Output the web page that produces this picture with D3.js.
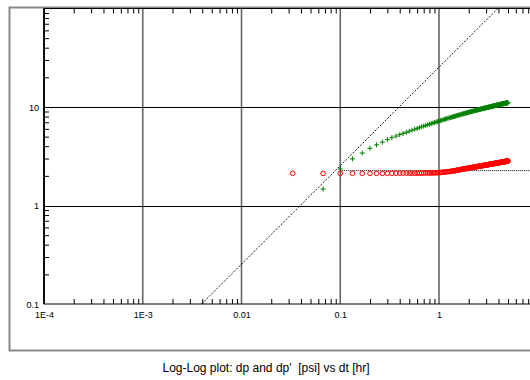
<!DOCTYPE html>
<html><head><meta charset="utf-8">
<script src="https://cdn.jsdelivr.net/npm/d3@7"></script>
<style>body{margin:0;background:#fff}svg{display:block}</style>
</head><body><svg id="c" width="530" height="380"></svg>
<script>
// ---- data ----
const dtHr = [
0.033,0.067,0.1,0.133,0.167,0.2,0.233,0.267,0.3,0.333,0.367,0.4,0.433,0.467,0.5,0.533,0.567,0.6,0.633,0.667,0.7,0.733,0.767,0.8,0.833,0.867,0.9,0.933,0.967,1,
1.033,1.067,1.1,1.133,1.167,1.2,1.233,1.267,1.3,1.333,1.367,1.4,1.433,1.467,1.5,1.533,1.567,1.6,1.633,1.667,1.7,1.733,1.767,1.8,1.833,1.867,1.9,1.933,1.967,2,
2.033,2.067,2.1,2.133,2.167,2.2,2.233,2.267,2.3,2.333,2.367,2.4,2.433,2.467,2.5,2.533,2.567,2.6,2.633,2.667,2.7,2.733,2.767,2.8,2.833,2.867,2.9,2.933,2.967,3,
3.033,3.067,3.1,3.133,3.167,3.2,3.233,3.267,3.3,3.333,3.367,3.4,3.433,3.467,3.5,3.533,3.567,3.6,3.633,3.667,3.7,3.733,3.767,3.8,3.833,3.867,3.9,3.933,3.967,4,
4.033,4.067,4.1,4.133,4.167,4.2,4.233,4.267,4.3,4.333,4.367,4.4,4.433,4.467,4.5,4.533,4.567,4.6,4.633,4.667,4.7,4.733,4.767,4.8,4.833,4.867,4.9,4.933,4.967,5
];
const dpPsi = [
2.12,2.12,2.12,2.12,2.12,2.12,2.12,2.12,2.12,2.12,2.13,2.13,2.13,2.13,2.13,2.13,2.13,2.13,2.13,2.13,2.14,2.14,2.14,2.14,2.14,2.14,2.14,2.15,2.15,2.16,
2.16,2.17,2.18,2.18,2.19,2.20,2.21,2.21,2.22,2.23,2.24,2.25,2.25,2.26,2.27,2.29,2.30,2.30,2.31,2.32,2.33,2.34,2.35,2.35,2.36,2.37,2.38,2.38,2.39,2.40,
2.41,2.41,2.42,2.43,2.43,2.44,2.45,2.45,2.46,2.47,2.47,2.48,2.48,2.49,2.50,2.50,2.51,2.51,2.52,2.53,2.53,2.54,2.54,2.55,2.55,2.56,2.56,2.57,2.57,2.58,
2.58,2.59,2.59,2.60,2.60,2.61,2.61,2.62,2.62,2.63,2.63,2.64,2.64,2.65,2.65,2.66,2.66,2.67,2.67,2.67,2.68,2.68,2.69,2.69,2.70,2.70,2.70,2.71,2.71,2.72,
2.72,2.72,2.73,2.73,2.74,2.74,2.74,2.75,2.75,2.76,2.76,2.76,2.77,2.77,2.77,2.78,2.78,2.79,2.79,2.79,2.80,2.80,2.80,2.81,2.81,2.81,2.82,2.82,2.82,2.83
];
const dpDeriv = [
null,1.47,2.35,2.97,3.41,3.81,4.13,4.40,4.66,4.88,5.06,5.23,5.39,5.54,5.68,5.81,5.94,6.06,6.18,6.29,6.39,6.50,6.60,6.69,6.78,6.87,6.95,7.04,7.12,7.19,
7.27,7.34,7.42,7.48,7.55,7.62,7.68,7.75,7.81,7.87,7.92,7.98,8.04,8.09,8.15,8.20,8.25,8.30,8.35,8.40,8.45,8.49,8.54,8.58,8.63,8.67,8.71,8.76,8.80,8.84,
8.88,8.92,8.96,9.00,9.03,9.07,9.11,9.14,9.18,9.21,9.25,9.28,9.32,9.35,9.38,9.42,9.45,9.48,9.51,9.54,9.57,9.60,9.63,9.66,9.69,9.72,9.74,9.77,9.80,9.83,
9.85,9.88,9.91,9.93,9.96,9.98,10.01,10.04,10.06,10.08,10.11,10.13,10.16,10.18,10.20,10.23,10.25,10.27,10.29,10.32,10.34,10.36,10.38,10.40,10.42,10.45,10.47,10.49,10.51,10.53,
10.55,10.57,10.59,10.61,10.63,10.65,10.66,10.68,10.70,10.72,10.74,10.76,10.78,10.80,10.81,10.83,10.85,10.87,10.88,10.90,10.92,10.93,10.95,10.97,10.98,11.00,11.02,11.04,11.05,11.07
];
const storageLine = [[0.00394, 0.1], [3.94, 100]];
const iarfLine = [[0.1, 2.26], [10, 2.26]];
const xMajor = [1e-4, 1e-3, 1e-2, 1e-1, 1];
const xTickLabels = ["1E-4", "1E-3", "0.01", "0.1", "1"];
const yMajor = [0.1, 1, 10];
const yTickLabels = ["0.1", "1", "10"];
const titleText = "Log-Log plot: dp and dp'  [psi] vs dt [hr]";

// ---- drawing ----
const svg = d3.select("#c");
const x = d3.scaleLog().domain([1e-4, 10]).range([44, 537.75]);
const y = d3.scaleLog().domain([0.1, 100]).range([304, 8.5]);
const font = "Liberation Sans, Arial, sans-serif";

// outer frame
svg.append("rect").attr("x", 9.5).attr("y", 7.5).attr("width", 620).attr("height", 343)
  .attr("fill", "none").attr("stroke", "#8a8a8a").attr("stroke-width", 2);

// minor tick values
const xMinor = [], yMinor = [];
for (let e = -4; e <= 0; e++) for (let k = 2; k <= 9; k++) xMinor.push(k * Math.pow(10, e));
for (let e = -1; e <= 1; e++) for (let k = 2; k <= 9; k++) yMinor.push(k * Math.pow(10, e));

// grid lines
const g = svg.append("g");
g.selectAll(".vg").data(xMajor.slice(1)).enter().append("line")
  .attr("x1", d => x(d)).attr("x2", d => x(d)).attr("y1", y(100)).attr("y2", y(0.1))
  .attr("stroke", "#666").attr("stroke-width", 1.6);
g.selectAll(".hg").data([1, 10]).enter().append("line")
  .attr("x1", x(1e-4)).attr("x2", x(10)).attr("y1", d => Math.round(y(d)) + 0.5).attr("y2", d => Math.round(y(d)) + 0.5)
  .attr("stroke", "#000").attr("stroke-width", 1);

// axes (minor ticks inside)
function styleAxis(sel) {
  sel.select(".domain").remove();
  sel.selectAll("line").attr("stroke", "#000");
  sel.selectAll("text").attr("font-family", font).attr("font-size", 9).attr("fill", "#000");
}
svg.append("g").attr("transform", "translate(0,304)")
  .call(d3.axisBottom(x).tickValues(xMinor).tickSize(-5).tickFormat("")).call(styleAxis);
svg.append("g").attr("transform", "translate(0,8.5)")
  .call(d3.axisTop(x).tickValues(xMinor).tickSize(-5).tickFormat("")).call(styleAxis);
svg.append("g").attr("transform", "translate(44,0)")
  .call(d3.axisLeft(y).tickValues(yMinor).tickSize(-5).tickFormat("")).call(styleAxis);
svg.append("g").attr("transform", "translate(537.75,0)")
  .call(d3.axisRight(y).tickValues(yMinor).tickSize(-5).tickFormat("")).call(styleAxis);

// labels
svg.append("g").attr("transform", "translate(0,304)")
  .call(d3.axisBottom(x).tickValues(xMajor).tickSize(0).tickPadding(8)
    .tickFormat((d, i) => xTickLabels[i])).call(styleAxis);
svg.append("g").attr("transform", "translate(39,0)")
  .call(d3.axisLeft(y).tickValues(yMajor).tickSize(0).tickPadding(0)
    .tickFormat((d, i) => yTickLabels[i])).call(styleAxis)
  .selectAll("text").attr("dy", "0.95em").attr("transform", "translate(0,-5.5)");

// plot box
svg.append("rect").attr("x", x(1e-4)).attr("y", y(100)).attr("width", x(10) - x(1e-4)).attr("height", y(0.1) - y(100))
  .attr("fill", "none").attr("stroke", "#000").attr("stroke-width", 1);
svg.append("line").attr("x1", x(1e-4)).attr("x2", x(1e-4)).attr("y1", y(100)).attr("y2", y(0.1))
  .attr("stroke", "#000").attr("stroke-width", 1.8);

// reference lines
const line = d3.line().x(d => x(d[0])).y(d => y(d[1]));
svg.append("path").attr("d", line(storageLine)).attr("fill", "none")
  .attr("stroke", "#000").attr("stroke-width", 0.9).attr("stroke-dasharray", "2,1.5");
svg.append("path").attr("d", line(iarfLine)).attr("fill", "none")
  .attr("stroke", "#000").attr("stroke-width", 1).attr("stroke-dasharray", "1,1");

// series
const deriv = dtHr.map((t, i) => [t, dpDeriv[i]]).filter(d => d[1] != null);
const dp = dtHr.map((t, i) => [t, dpPsi[i]]);
svg.append("g").selectAll("path").data(deriv).enter().append("path")
  .attr("d", d => { const cx = x(d[0]), cy = y(d[1]); return `M${cx-2.5},${cy}H${cx+2.5}M${cx},${cy-2.5}V${cy+2.5}`; })
  .attr("stroke", "#008000").attr("stroke-width", 1).attr("fill", "none");
svg.append("g").selectAll("circle").data(dp).enter().append("circle")
  .attr("cx", d => x(d[0])).attr("cy", d => y(d[1])).attr("r", 2.3)
  .attr("fill", "none").attr("stroke", "#ff0000").attr("stroke-width", 1);

// title
svg.append("text").attr("x", 266).attr("y", 372).attr("text-anchor", "middle")
  .style("white-space", "pre")
  .attr("font-family", font).attr("font-size", 12).attr("fill", "#000").text(titleText);
</script></body></html>
